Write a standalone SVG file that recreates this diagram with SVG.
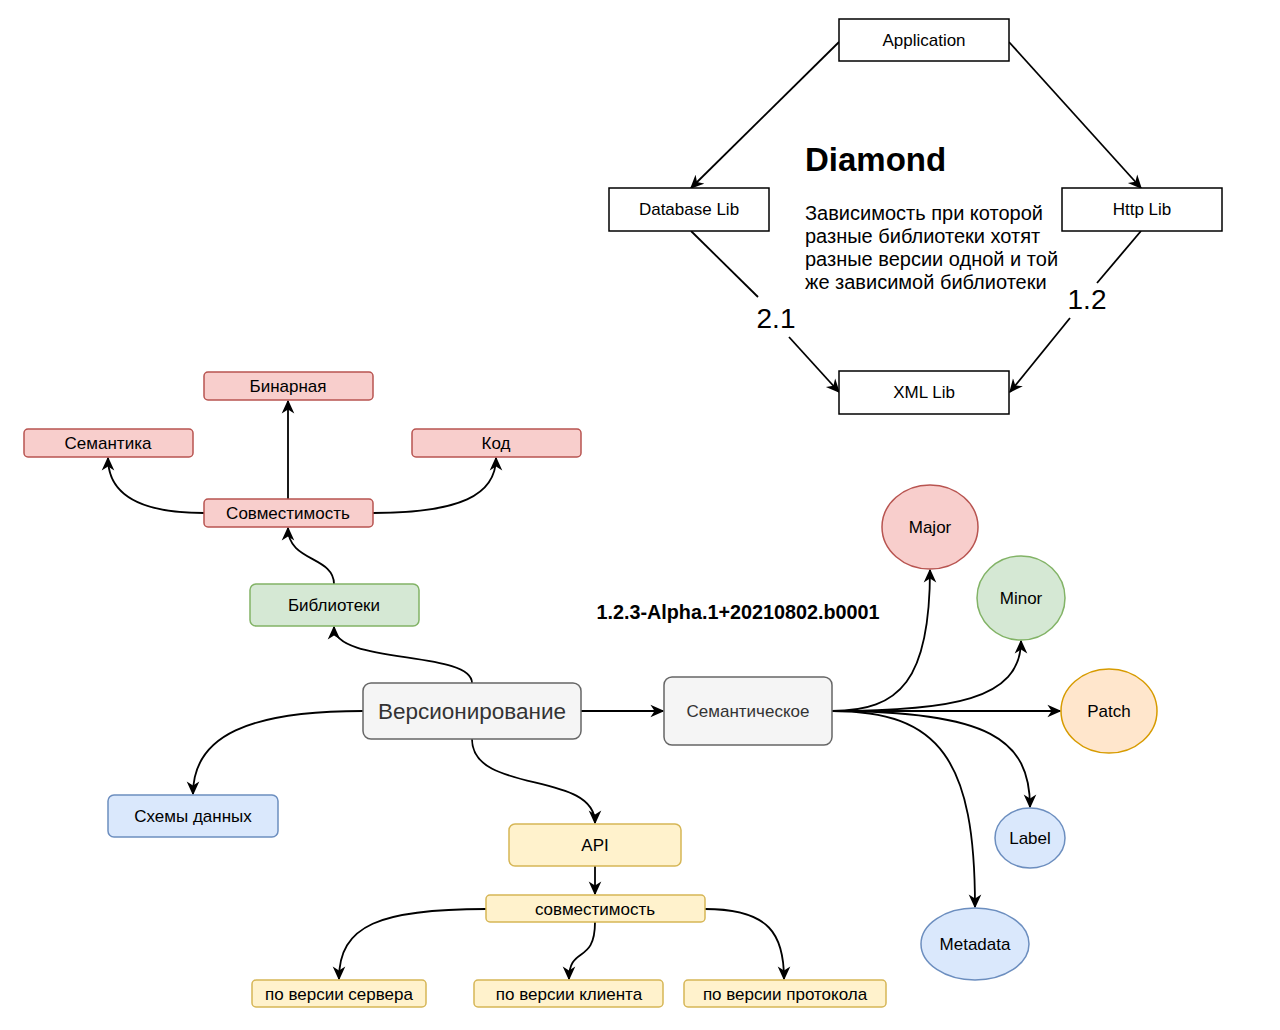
<svg xmlns="http://www.w3.org/2000/svg" width="1280" height="1030" viewBox="0 0 1280 1030">
<defs>
<marker id="arr" viewBox="0 0 10 10" refX="9" refY="5" markerWidth="14" markerHeight="14" markerUnits="userSpaceOnUse" orient="auto">
<path d="M0,0.5 L10,5 L0,9.5 L3,5 z" fill="#000"/>
</marker>
<style>
text{font-family:"Liberation Sans",Arial,sans-serif;fill:#000}
.t{font-size:17px;text-anchor:middle;dominant-baseline:central}
.p{font-size:20px}
.w{fill:#fff;stroke:#000;stroke-width:1.5}
.red{fill:#f8cecc;stroke:#b85450;stroke-width:1.5}
.grn{fill:#d5e8d4;stroke:#82b366;stroke-width:1.5}
.gry{fill:#f5f5f5;stroke:#666;stroke-width:1.5}
.blu{fill:#dae8fc;stroke:#6c8ebf;stroke-width:1.5}
.yel{fill:#fff2cc;stroke:#d6b656;stroke-width:1.5}
.org{fill:#ffe6cc;stroke:#d79b00;stroke-width:1.5}
.e{fill:none;stroke:#000;stroke-width:1.8}
.ea{fill:none;stroke:#000;stroke-width:1.8;marker-end:url(#arr)}
</style>
</defs>
<rect width="1280" height="1030" fill="#fff"/>

<g id="connectors">
<path class="ea" d="M839,42 L691,188"/>
<path class="ea" d="M1009,42 L1141,188"/>
<path class="e" d="M691,231 L758,297"/>
<path class="ea" d="M789,337 L839,392"/>
<path class="e" d="M1141,231 L1097,283"/>
<path class="ea" d="M1070,318 L1010,392"/>

<path class="ea" d="M204,513 C140,513 108,495 108,458"/>
<path class="ea" d="M288,499 L288,401"/>
<path class="ea" d="M373,513 C460,513 496,495 496,458"/>
<path class="ea" d="M334,584 C334,556 288,562 288,528"/>
<path class="ea" d="M472,683 C472,650 334,665 334,627"/>
<path class="ea" d="M363,711 C250,711 193,735 193,794"/>
<path class="ea" d="M472,739 C472,795 595,770 595,823"/>
<path class="ea" d="M581,711 L663,711"/>
<path class="ea" d="M595,866 L595,894"/>
<path class="ea" d="M486,909 C380,909 339,925 339,979"/>
<path class="ea" d="M595,922 C595,965 569,945 569,979"/>
<path class="ea" d="M705,909 C770,909 784,935 784,979"/>

<path class="ea" d="M832,711 C900,711 930,680 930,570"/>
<path class="ea" d="M832,711 C950,711 1021,700 1021,641"/>
<path class="ea" d="M832,711 L1060,711"/>
<path class="ea" d="M832,711 C990,711 1030,740 1030,807"/>
<path class="ea" d="M832,711 C940,711 975,760 975,907"/>
</g>

<g id="application"><rect class="w" x="839" y="19" width="170" height="42"/><text class="t" x="924" y="40">Application</text></g>
<g id="database-lib"><rect class="w" x="609" y="188" width="160" height="43"/><text class="t" x="689" y="209">Database Lib</text></g>
<g id="http-lib"><rect class="w" x="1062" y="188" width="160" height="43"/><text class="t" x="1142" y="209">Http Lib</text></g>
<g id="xml-lib"><rect class="w" x="839" y="371" width="170" height="43"/><text class="t" x="924" y="392">XML Lib</text></g>
<g id="diamond-text">
<text x="805" y="171" style="font-size:33px;font-weight:bold">Diamond</text>
<text class="p" x="805" y="220">Зависимость при которой</text>
<text class="p" x="805" y="243">разные библиотеки хотят</text>
<text class="p" x="805" y="266">разные версии одной и той</text>
<text class="p" x="805" y="289">же зависимой библиотеки</text>
</g>
<g id="label-21"><text x="776" y="318" style="font-size:28px;text-anchor:middle;dominant-baseline:central">2.1</text></g>
<g id="label-12"><text x="1087" y="299" style="font-size:28px;text-anchor:middle;dominant-baseline:central">1.2</text></g>

<g id="binarnaya"><rect class="red" x="204" y="372" width="169" height="28" rx="4"/><text class="t" x="288" y="386">Бинарная</text></g>
<g id="semantika"><rect class="red" x="24" y="429" width="169" height="28" rx="4"/><text class="t" x="108" y="443">Семантика</text></g>
<g id="kod"><rect class="red" x="412" y="429" width="169" height="28" rx="4"/><text class="t" x="496" y="443">Код</text></g>
<g id="sovmestimost"><rect class="red" x="204" y="499" width="169" height="28" rx="4"/><text class="t" x="288" y="513">Совместимость</text></g>
<g id="biblioteki"><rect class="grn" x="250" y="584" width="169" height="42" rx="6"/><text class="t" x="334" y="605">Библиотеки</text></g>
<g id="versionirovanie"><rect class="gry" x="363" y="683" width="218" height="56" rx="8"/><text class="t" x="472" y="711" style="font-size:22.5px;fill:#333">Версионирование</text></g>
<g id="semanticheskoe"><rect class="gry" x="664" y="677" width="168" height="68" rx="8"/><text class="t" x="748" y="711" style="fill:#333">Семантическое</text></g>
<g id="version-string"><text x="738" y="612" style="font-size:19.8px;font-weight:bold;text-anchor:middle;dominant-baseline:central">1.2.3-Alpha.1+20210802.b0001</text></g>
<g id="skhemy"><rect class="blu" x="108" y="795" width="170" height="42" rx="6"/><text class="t" x="193" y="816">Схемы данных</text></g>
<g id="api"><rect class="yel" x="509" y="824" width="172" height="42" rx="6"/><text class="t" x="595" y="845">API</text></g>
<g id="api-sovmestimost"><rect class="yel" x="486" y="895" width="219" height="27" rx="4"/><text class="t" x="595" y="909">совместимость</text></g>
<g id="server"><rect class="yel" x="252" y="980" width="174" height="27" rx="4"/><text class="t" x="339" y="994">по версии сервера</text></g>
<g id="client"><rect class="yel" x="474" y="980" width="189" height="27" rx="4"/><text class="t" x="569" y="994">по версии клиента</text></g>
<g id="protocol"><rect class="yel" x="684" y="980" width="202" height="27" rx="4"/><text class="t" x="785" y="994">по версии протокола</text></g>

<g id="major"><ellipse class="red" cx="930" cy="527" rx="48" ry="42"/><text class="t" x="930" y="527">Major</text></g>
<g id="minor"><ellipse class="grn" cx="1021" cy="598" rx="44" ry="42"/><text class="t" x="1021" y="598">Minor</text></g>
<g id="patch"><ellipse class="org" cx="1109" cy="711" rx="48" ry="42"/><text class="t" x="1109" y="711">Patch</text></g>
<g id="label"><ellipse class="blu" cx="1030" cy="838" rx="35" ry="30"/><text class="t" x="1030" y="838">Label</text></g>
<g id="metadata"><ellipse class="blu" cx="975" cy="944" rx="54" ry="36"/><text class="t" x="975" y="944">Metadata</text></g>
</svg>
